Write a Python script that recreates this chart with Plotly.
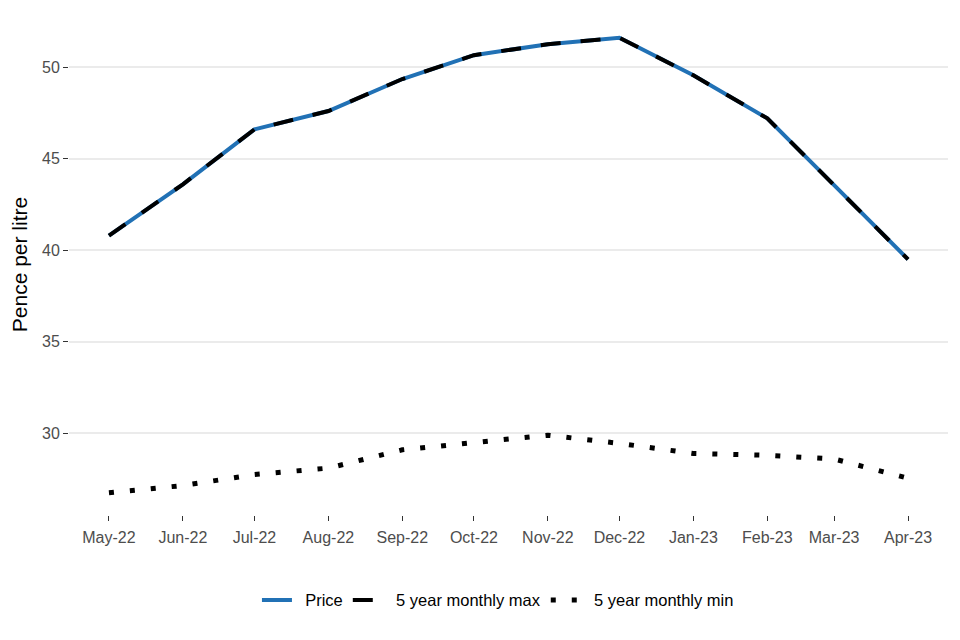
import plotly.graph_objects as go

months = ["2022-05-01", "2022-06-01", "2022-07-01", "2022-08-01", "2022-09-01", "2022-10-01",
          "2022-11-01", "2022-12-01", "2023-01-01", "2023-02-01", "2023-03-01", "2023-04-01"]
price = [40.8, 43.6, 46.6, 47.6, 49.35, 50.65, 51.25, 51.6, 49.55, 47.2, 43.55, 39.5]
max5 = [40.8, 43.6, 46.6, 47.6, 49.35, 50.65, 51.25, 51.6, 49.55, 47.2, 43.55, 39.5]
min5 = [26.75, 27.15, 27.75, 28.1, 29.1, 29.5, 29.9, 29.45, 28.9, 28.8, 28.6, 27.55]
yticks = [30, 35, 40, 45, 50]
names = ["Price", "5 year monthly max", "5 year monthly min"]

pad = "\u2002"

fig = go.Figure()
fig.add_trace(go.Scatter(x=months, y=price, mode="lines", name=pad + names[0],
                         line=dict(color="#2171B5", width=4)))
fig.add_trace(go.Scatter(x=months, y=max5, mode="lines", name=pad + names[1],
                         line=dict(color="black", width=4, dash="20px,20px")))
fig.add_trace(go.Scatter(x=months, y=min5, mode="lines", name=pad + names[2],
                         line=dict(color="black", width=5, dash="5px,16px")))

# page body has an 8px margin; the figure is sized and offset to compensate
fig.update_layout(
    width=944, height=624,
    margin=dict(l=61, r=4, t=6, b=117),
    plot_bgcolor="white", paper_bgcolor="white",
    font=dict(family="Liberation Sans, Arial, sans-serif", color="#4D4D4D", size=16),
    showlegend=True,
    legend=dict(orientation="h", x=0.488, xanchor="center", y=-0.17, yanchor="middle",
                font=dict(size=16.5, color="black")),
    xaxis=dict(type="date", range=["2022-04-14 06:00", "2023-04-17 18:00"],
               tickvals=months, tickformat="%b-%y", showgrid=False, zeroline=False,
               ticks="outside", ticklen=5, tickcolor="#333333", tickwidth=1.2,
               ticklabelstandoff=3,
               showline=False, tickfont=dict(size=16, color="#4D4D4D")),
    yaxis=dict(range=[25.54, 52.9], tickvals=yticks, showgrid=True, gridcolor="#EBEBEB",
               gridwidth=1.5, zeroline=False, ticks="outside", ticklen=5,
               tickcolor="#333333", tickwidth=1.2, showline=False,
               tickfont=dict(size=16, color="#4D4D4D"),
               title=dict(text="Pence per litre", font=dict(size=21, color="black"), standoff=9)),
)

fig.write_html("out.html")
